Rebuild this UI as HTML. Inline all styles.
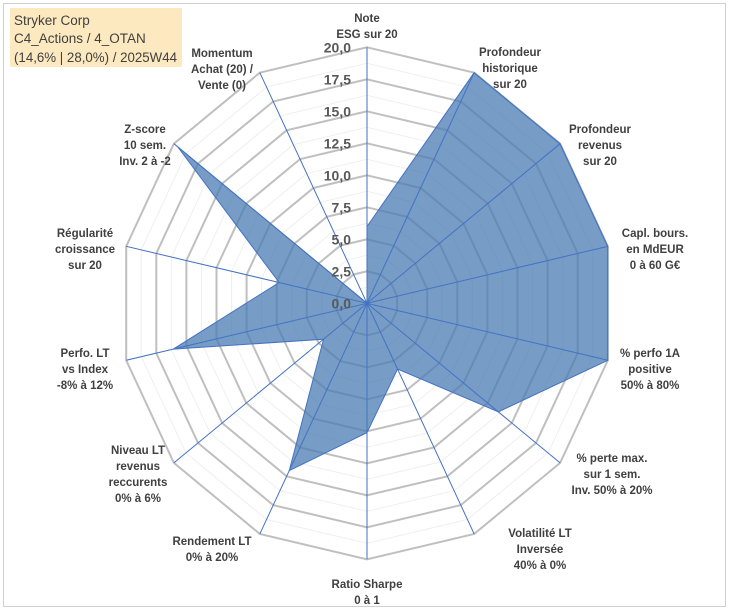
<!DOCTYPE html>
<html><head><meta charset="utf-8"><style>
body{margin:0;background:#fff;}
svg text{font-family:"Liberation Sans",sans-serif;}
</style></head><body>
<svg id="chart" width="729" height="610" xmlns="http://www.w3.org/2000/svg">
<rect x="3.5" y="3.5" width="722" height="603" fill="#fff" stroke="#d0d0d0"/>
<g id="grid"></g>
<g id="series"></g>
<g id="labels"></g>
<g id="ticks"></g>
<rect x="10" y="8" width="172" height="59" fill="#fde9c0"/>
<text x="14" y="25" font-size="13.5" fill="#404040">Stryker Corp</text>
<text x="14" y="43" font-size="13.5" fill="#404040">C4_Actions / 4_OTAN</text>
<text x="14" y="62" font-size="13.5" fill="#404040" textLength="163" lengthAdjust="spacingAndGlyphs">(14,6% | 28,0%) / 2025W44</text>
</svg>
<script>
const categories=[["Note","ESG sur 20"],["Profondeur","historique","sur 20"],["Profondeur","revenus","sur 20"],["Capl. bours.","en MdEUR","0 à 60 G€"],["% perfo 1A","positive","50% à 80%"],["% perte max.","sur 1 sem.","Inv. 50% à 20%"],["Volatilité LT","Inversée","40% à 0%"],["Ratio Sharpe","0 à 1"],["Rendement LT","0% à 20%"],["Niveau LT","revenus","reccurents","0% à 6%"],["Perfo. LT","vs Index","-8% à 12%"],["Régularité","croissance","sur 20"],["Z-score","10 sem.","Inv. 2 à -2"],["Momentum","Achat (20) /","Vente (0)"]];
const values=[6.0,20,20,20,20,13.6,5.7,10.1,14.5,4.5,16.1,7.3,19.6,0];
const tickLabels=["0,0","2,5","5,0","7,5","10,0","12,5","15,0","17,5","20,0"];
const labelAnchors=[[367,13],[510,47],[600,124],[655,228],[650,348],[612,453],[540,528],[367,579],[212,536],[138,445],[85,348],[85,228],[145,124],[222,48]];
const NS="http://www.w3.org/2000/svg";
const cx=367,cy=303.3,rx=247,ry=256,maxV=20,N=categories.length;
function pt(i,v){const a=i*2*Math.PI/N;return [cx+Math.sin(a)*rx*v/maxV, cy-Math.cos(a)*ry*v/maxV];}
function mk(tag,attrs,parent){const e=document.createElementNS(NS,tag);for(const k in attrs)e.setAttribute(k,attrs[k]);document.getElementById(parent).appendChild(e);return e;}
for(let k=1;k<=16;k++){const v=k*1.25;const major=k%2===0;
 const p=[];for(let i=0;i<N;i++)p.push(pt(i,v).join(","));
 const e=mk("polygon",{points:p.join(" "),fill:"none",stroke:major?"#bfbfbf":"#efefef","stroke-width":major?2:1},"grid");
 
 
}
const sp=values.map((v,i)=>pt(i,v).join(","));
const poly=mk("polygon",{points:sp.join(" "),fill:"#4a7bb3","fill-opacity":"0.75",stroke:"#4472c4","stroke-width":1},"series");


for(let i=0;i<N;i++){const [x,y]=pt(i,maxV);
 const l=mk("line",{x1:cx,y1:cy,x2:x,y2:y,stroke:"#4472c4","stroke-width":1},"series");
 
 
}
categories.forEach((lines,i)=>{const [x,y]=labelAnchors[i];
 const t=mk("text",{x:x,y:y+9,"font-size":11.5,"font-weight":"bold",fill:"#404040","text-anchor":"middle"},"labels");
 
 
 lines.forEach((s,j)=>{const ts=document.createElementNS(NS,"tspan");ts.setAttribute("x",x);ts.setAttribute("dy",j?16:0);ts.textContent=s;t.appendChild(ts);});
});
tickLabels.forEach((s,k)=>{const y=cy-ry*(k*2.5)/maxV;
 const t=mk("text",{x:351,y:y+5,"font-size":14,"font-weight":"bold",fill:"#595959","text-anchor":"end"},"ticks");
 
 
 t.textContent=s;
});
</script>
</body></html>
